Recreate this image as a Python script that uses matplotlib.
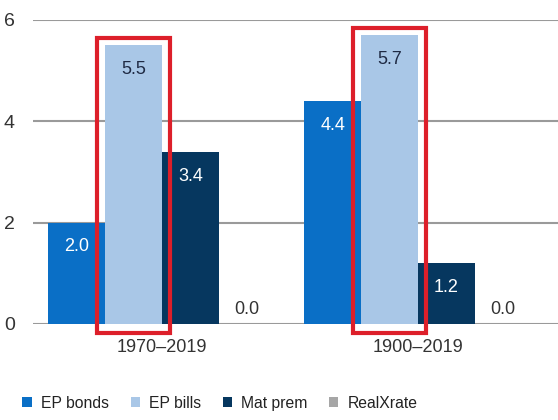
import numpy as np
import matplotlib.pyplot as plt
from matplotlib.patches import Rectangle

plt.rcParams['font.family'] = ['Liberation Sans', 'DejaVu Sans']

# Data
periods = ["1970\u20132019", "1900\u20132019"]
series = ["EP bonds", "EP bills", "Mat prem", "RealXrate"]
ep_bonds = [2.0, 4.4]
ep_bills = [5.5, 5.7]
mat_prem = [3.4, 1.2]
real_xrate = [0.0, 0.0]

colors = ["#0A6FC6", "#A9C7E7", "#06375F", "#A6A6A6"]
label_colors = ["white", "#1F2A44", "white", "#333333"]

values = [ep_bonds, ep_bills, mat_prem, real_xrate]

fig = plt.figure(figsize=(5.58, 4.2), dpi=100)
ax = fig.add_axes([33 / 558, 1 - 324 / 420, 1 - 33 / 558, (324 - 20) / 420])

x = np.arange(len(periods))
width = 0.222
offsets = (np.arange(len(series)) - 1.5) * width

for i, (name, vals) in enumerate(zip(series, values)):
    bars = ax.bar(x + offsets[i], vals, width, color=colors[i], label=name, zorder=3)
    for b, v in zip(bars, vals):
        cx = b.get_x() + b.get_width() / 2
        if v > 0.5:
            ax.text(cx, v - 0.48, f"{v:.1f}", ha="center", va="center",
                    fontsize=13, color=label_colors[i], zorder=4)
        else:
            ax.text(cx, v + 0.28, f"{v:.1f}", ha="center", va="center",
                    fontsize=13, color=label_colors[i], zorder=4)

# red highlight boxes around EP bills
for xi, v in zip(x, ep_bills):
    cx = xi + offsets[1]
    rect = Rectangle((cx - 0.143, -0.17), 0.286, v + 0.15 + 0.17,
                     fill=False, edgecolor="#DD1F2A", linewidth=3, zorder=5,
                     clip_on=False)
    ax.add_patch(rect)

ax.set_ylim(0, 6)
ax.set_xlim(-0.504, 1.547)
ax.set_yticks([0, 2, 4, 6])
ax.yaxis.grid(True, color="#9A9A9A", linewidth=1.5, zorder=0)
ax.set_axisbelow(True)
for s in ax.spines.values():
    s.set_visible(False)
ax.tick_params(axis="y", length=0, pad=13, labelsize=14, labelcolor="#333333")
ax.set_xticks(x)
ax.set_xticklabels(periods)
ax.tick_params(axis="x", length=0, pad=11, labelsize=13, labelcolor="#333333")

fig.legend(loc="lower left", bbox_to_anchor=(0.015, -0.012), ncol=4, frameon=False,
           fontsize=11.3, handlelength=0.6, handleheight=0.6, handletextpad=0.6,
           columnspacing=1.35, labelcolor="#222222")

fig.savefig("out.png", dpi=100)
